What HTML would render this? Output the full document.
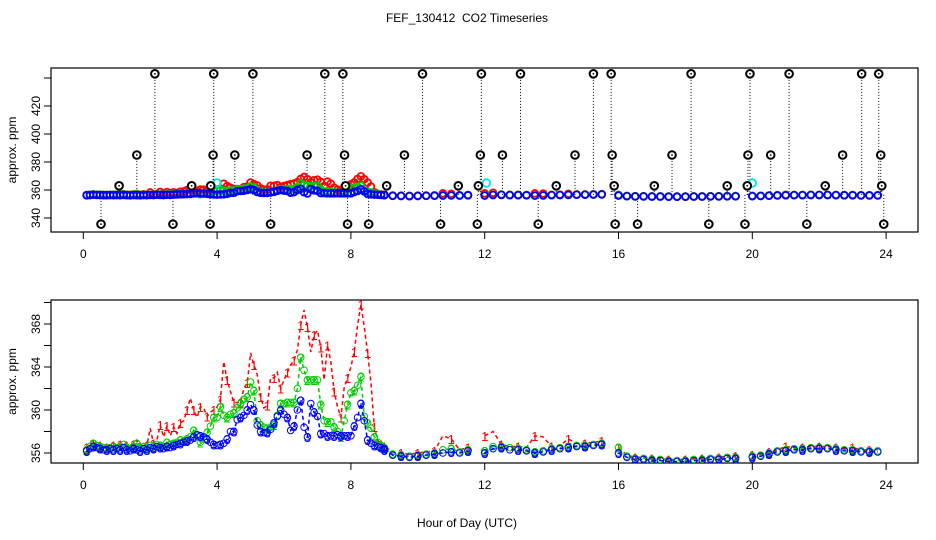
<!DOCTYPE html>
<html><head><meta charset="utf-8">
<style>
html,body{margin:0;padding:0;background:#fff;}
svg{display:block;font-family:"Liberation Sans",Arial,sans-serif;}
</style></head>
<body>
<svg id="chart" width="936" height="540" viewBox="0 0 936 540" xmlns="http://www.w3.org/2000/svg">
<rect width="936" height="540" fill="#fff"/>
<text x="467" y="22" font-size="12" text-anchor="middle" xml:space="preserve">FEF_130412  CO2 Timeseries</text>
<text x="467" y="527" font-size="12" text-anchor="middle">Hour of Day (UTC)</text>
<g id="top"></g>
<g id="bot"></g>
</svg>
<script>
// ---------- data ----------
const xTicks = [0,4,8,12,16,20,24];
const topYTicks = [340,360,380,400,420,440];
const topYLabels = [340,360,380,400,420];
const botYTicks = [356,358,360,362,364,366,368,370];
const botYLabels = [356,360,364,368];

// early period 0.1..9.0 h (0.1 h step)
const redEarly = [356.5,356.7,356.8,356.6,356.7,356.6,356.5,356.6,356.7,356.6,
356.8,357.0,356.7,356.6,356.8,357.2,356.6,356.9,356.7,358.3,
356.9,357.2,358.6,357.5,358.5,357.6,358.4,357.8,358.8,359.0,
360.0,361.1,360.0,359.3,360.3,360.2,359.4,359.8,360.0,360.3,
361.0,364.5,362.8,361.7,360.7,360.7,360.7,362.0,362.5,365.3,
364.2,363.3,361.2,360.2,360.4,363.0,363.0,363.5,362.0,362.8,
363.5,364.2,364.6,365.6,367.9,369.3,367.7,365.4,367.0,367.4,
365.8,362.8,366.0,364.5,361.7,360.3,359.3,362.1,363.0,364.0,
365.4,367.9,369.8,367.7,365.3,362.5,358.4,357.2,356.8,356.5];
const greenEarly = [356.3,356.6,356.9,356.7,356.6,356.5,356.4,356.5,356.6,356.5,
356.6,356.8,356.5,356.4,356.6,356.9,356.5,356.6,356.5,356.7,
356.6,356.8,356.7,356.6,357.0,356.8,356.9,357.0,357.2,357.1,
357.3,357.5,358.1,357.6,357.0,357.5,357.9,358.5,359.3,359.3,
360.3,359.5,359.3,359.6,359.7,360.2,360.6,361.0,361.2,362.6,
361.8,359.0,358.6,358.4,358.3,358.4,358.6,359.5,360.6,360.6,
360.7,360.7,360.7,362.0,364.9,363.7,362.8,362.8,362.8,362.8,
360.5,359.0,358.9,358.9,358.4,358.0,357.5,359.0,360.5,361.6,
361.8,362.3,363.1,359.4,358.8,358.3,357.5,357.0,356.7,356.5];
const blueEarly = [356.2,356.4,356.6,356.5,356.4,356.3,356.3,356.4,356.3,356.4,
356.3,356.5,356.3,356.2,356.4,356.3,356.2,356.4,356.3,356.5,
356.4,356.6,356.5,356.4,356.6,356.5,356.7,356.8,356.9,357.0,
357.1,357.2,357.5,357.7,357.6,357.5,357.3,357.0,356.8,356.7,
356.8,356.9,357.3,358.0,358.0,359.1,359.3,359.5,360.0,360.5,
360.0,358.6,358.0,357.9,357.9,358.2,358.8,359.4,360.0,359.6,
359.3,358.1,358.5,360.0,360.9,358.4,357.5,360.6,359.8,359.4,
357.8,357.8,357.6,357.6,357.6,357.7,357.6,357.6,357.6,357.6,
358.5,359.3,360.6,359.0,357.2,356.9,356.7,356.6,356.5,356.4];

// late period 9.0..23.75 h (0.25 h step), null = data gap
const redLate = [356.6,356.1,356.0,355.9,356.0,356.1,356.2,357.6,357.3,356.3,356.5,null,
357.6,358.0,356.8,356.6,356.6,356.5,357.6,357.5,356.6,356.7,357.3,356.9,356.9,357.0,357.1,null,
356.5,355.8,355.6,355.6,355.5,355.5,355.4,355.4,355.4,355.5,355.5,355.6,355.6,355.7,355.7,null,
355.8,355.9,356.1,356.3,356.6,356.5,356.5,356.6,356.6,356.6,356.5,356.4,356.5,356.3,356.3,356.3];
const greenLate = [356.4,355.9,355.8,355.7,355.8,355.9,356.0,356.3,356.4,356.1,356.3,null,
356.2,356.6,356.6,356.5,356.4,356.3,356.1,356.2,356.4,356.5,356.6,356.7,356.7,356.8,356.9,null,
356.5,355.7,355.5,355.5,355.4,355.4,355.3,355.3,355.3,355.4,355.4,355.5,355.5,355.6,355.6,null,
355.7,355.8,356.0,356.2,356.3,356.4,356.4,356.5,356.5,356.5,356.4,356.3,356.3,356.2,356.2,356.2];
const blueLate = [356.3,355.8,355.7,355.6,355.7,355.8,355.9,356.0,356.1,356.0,356.2,null,
356.0,356.4,356.5,356.3,356.3,356.2,356.0,356.1,356.3,356.4,356.5,356.6,356.6,356.7,356.8,null,
356.0,355.6,355.4,355.4,355.3,355.3,355.2,355.2,355.2,355.3,355.3,355.4,355.4,355.5,355.5,null,
355.6,355.7,355.9,356.1,356.2,356.3,356.3,356.4,356.4,356.4,356.3,356.2,356.2,356.1,356.1,356.1];

// black spike markers (top panel)
const spikeHighHours = [2.14,3.9,5.07,7.22,7.76,10.14,11.9,13.07,15.25,15.78,18.17,19.93,21.1,23.27,23.78];
const spikeHighValue = 443;
const spikeMidHours = [1.6,3.88,4.53,6.69,7.81,9.6,11.87,12.53,14.7,15.81,17.6,19.87,20.55,22.7,23.84];
const spikeMidValue = 385;
const spikeLowHours = [1.07,3.24,3.81,7.84,9.07,11.21,11.81,14.14,15.87,17.07,19.25,19.85,22.18,23.87];
const spikeLowValue = 363;
const spikeNegHours = [0.53,2.68,3.79,5.6,7.9,8.53,10.68,11.78,13.6,15.9,16.57,18.7,19.78,21.63,23.93];
const spikeNegValue = 335.6;
const cyanHours = [4.0,12.05,20.0];
const cyanValues = [365,365,365];
const spikeBase = 356.5;

// ---------- build hours ----------
const hoursEarly = redEarly.map((_, i) => (i + 1) / 10);
const hoursLate = redLate.map((_, i) => 9 + i * 0.25);
const hours = hoursEarly.concat(hoursLate);
const red = redEarly.concat(redLate), green = greenEarly.concat(greenLate), blue = blueEarly.concat(blueLate);

// ---------- scales ----------
const X0 = 83.3, XS = 33.45;
const xs = h => X0 + h * XS;
const ysTop = v => 218 - (v - 340) * 1.4;
const ysBot = v => 453 - (v - 356) * 10.75;

const NS = 'http://www.w3.org/2000/svg';
function mk(tag, attrs, parent){const e=document.createElementNS(NS,tag);for(const k in attrs)e.setAttribute(k,attrs[k]);parent.appendChild(e);return e;}

function axes(g, top, bottom, yScale, yTicks, yLabels, name){
  const box = mk('rect',{x:51,y:top,width:867,height:bottom-top,fill:'none',stroke:'#000','stroke-width':1.2},g);
  
  
  xTicks.forEach(t=>{
    const l=mk('line',{x1:xs(t),x2:xs(t),y1:bottom,y2:bottom+7,stroke:'#000'},g);
    
    
    const tx=mk('text',{x:xs(t),y:bottom+26,'font-size':12,'text-anchor':'middle'},g);
    tx.textContent=t;
    
    
  });
  yTicks.forEach(t=>{
    const y=yScale(t); if(y<top||y>bottom) return;
    const l=mk('line',{x1:44,x2:51,y1:y,y2:y,stroke:'#000'},g);
    
    
  });
  yLabels.forEach(t=>{
    const y=yScale(t);
    const tx=mk('text',{x:40,y:y,'font-size':12,'text-anchor':'middle',transform:`rotate(-90 40 ${y})`},g);
    tx.textContent=t;
    
    
  });
  const cy=(top+bottom)/2;
  const yt=mk('text',{x:16,y:cy,'font-size':12,'text-anchor':'middle',transform:`rotate(-90 16 ${cy})`},g);
  yt.textContent='approx. ppm';
  
  
}

// ---------- top panel ----------
const gt=document.getElementById('top');
axes(gt,68,232,ysTop,topYTicks,topYLabels,'top');
function spikes(hs,val){
  hs.forEach(h=>{
    const l=mk('line',{x1:xs(h),x2:xs(h),y1:ysTop(spikeBase),y2:ysTop(val),stroke:'#000','stroke-width':1,'stroke-dasharray':'1,2'},gt);
    
    
  });
}
[[spikeHighHours,spikeHighValue],[spikeMidHours,spikeMidValue],[spikeLowHours,spikeLowValue],[spikeNegHours,spikeNegValue]].forEach(a=>spikes(a[0],a[1]));
function topSeries(vals,col,name){
  vals.forEach((v,i)=>{
    if(v===null) return;
    const c=mk('circle',{cx:xs(hours[i]),cy:ysTop(v),r:3.4,fill:'none',stroke:col,'stroke-width':1.8},gt);
    
    
  });
}
topSeries(red,'#ff0000','top-series-1');
topSeries(green,'#00cc00','top-series-2');
topSeries(blue,'#0000ff','top-series-3');
cyanHours.forEach((h,i)=>{
  const c=mk('circle',{cx:xs(h),cy:ysTop(cyanValues[i]),r:3.8,fill:'none',stroke:'#00e5e5','stroke-width':1.8},gt);
  
  
});
function blackMarks(hs,val){
  hs.forEach(h=>{
    const c=mk('circle',{cx:xs(h),cy:ysTop(val),r:3.8,fill:'#fff',stroke:'#000','stroke-width':2},gt);
    
    
    const d=mk('circle',{cx:xs(h),cy:ysTop(val),r:0.9,fill:'#000'},gt);
    
    
  });
}
[[spikeHighHours,spikeHighValue],[spikeMidHours,spikeMidValue],[spikeLowHours,spikeLowValue],[spikeNegHours,spikeNegValue]].forEach(a=>blackMarks(a[0],a[1]));

// ---------- bottom panel ----------
const gb=document.getElementById('bot');
axes(gb,300,463,ysBot,botYTicks,botYLabels,'bottom');
const clip=mk('clipPath',{id:'botclip'},gb);
mk('rect',{x:51,y:300,width:867,height:163},clip);
const gbc=mk('g',{'clip-path':'url(#botclip)'},gb);


function botSeries(vals,col,digit,circles,name){
  let segs=[],cur=[];
  vals.forEach((v,i)=>{ if(v===null){ if(cur.length) segs.push(cur); cur=[]; } else cur.push(xs(hours[i]).toFixed(1)+','+ysBot(v).toFixed(1)); });
  if(cur.length) segs.push(cur);
  segs.forEach(s=>{
    const p=mk('polyline',{points:s.join(' '),fill:'none',stroke:col,'stroke-width':1.5,'stroke-dasharray':'4,3'},gbc);
    
    
  });
  vals.forEach((v,i)=>{
    if(v===null) return;
    if(circles){
      const c=mk('circle',{cx:xs(hours[i]),cy:ysBot(v),r:3.3,fill:'none',stroke:col,'stroke-width':1},gbc);
      
      
    }
    if(i%2===0){
      const t=mk('text',{x:xs(hours[i]),y:ysBot(v)+5,'font-size':13,'text-anchor':'middle',fill:col},gbc);
      t.textContent=digit;
      
      
    }
  });
}
botSeries(red,'#ff0000','1',false,'series-1');
botSeries(green,'#00cc00','2',true,'series-2');
botSeries(blue,'#0000ff','3',true,'series-3');
</script>
</body></html>
